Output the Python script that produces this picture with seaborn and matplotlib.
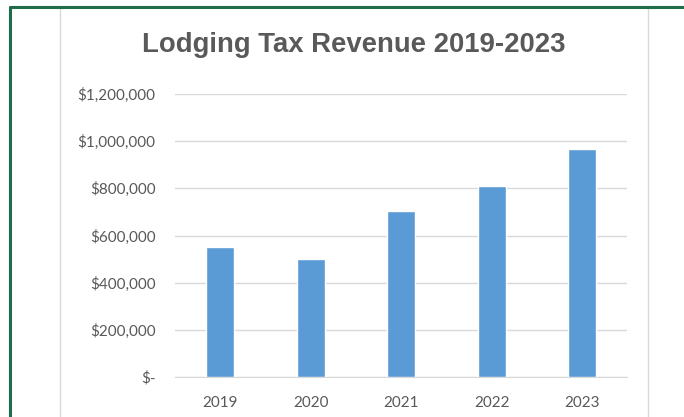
import matplotlib
matplotlib.use("Agg")
import matplotlib.pyplot as plt
import seaborn as sns
import pandas as pd
from matplotlib.lines import Line2D
from matplotlib.ticker import FuncFormatter

# Chart data
years = ["2019", "2020", "2021", "2022", "2023"]
revenue = [553000, 500000, 703000, 810000, 966000]

df = pd.DataFrame({"year": years, "revenue": revenue})

sns.set_style("white")
plt.rcParams["font.family"] = ["Lato", "DejaVu Sans"]

fig = plt.figure(figsize=(6.84, 4.17), dpi=100)
ax = fig.add_axes([0.256, 0.0959, 0.661, 0.6787])

sns.barplot(data=df, x="year", y="revenue", color="#5B9BD5", width=0.31,
            saturation=1, ax=ax, zorder=3)

ax.set_ylim(0, 1200000)
ax.set_yticks(range(0, 1200001, 200000))


def money(v, pos):
    if v == 0:
        return "$-"
    return "${:,.0f}".format(v)


ax.yaxis.set_major_formatter(FuncFormatter(money))
ax.grid(axis="y", color="#D9D9D9", linewidth=1, zorder=0)
for s in ["top", "right", "left"]:
    ax.spines[s].set_visible(False)
ax.spines["bottom"].set_color("#D9D9D9")
ax.spines["bottom"].set_zorder(1)
ax.tick_params(axis="both", length=0, labelsize=11, colors="#595959")
ax.tick_params(axis="y", pad=14)
ax.tick_params(axis="x", pad=14)
ax.set_xlabel("")
ax.set_ylabel("")

fig.text(0.517, 0.893, "Lodging Tax Revenue 2019-2023", ha="center", va="center",
         fontsize=19.8, fontweight="bold", color="#595959",
         family=["Liberation Sans", "DejaVu Sans"])

# chart frame and worksheet border
W, H = 684, 417
for x in [60, 648]:
    fig.add_artist(Line2D([x / W, x / W], [0, 1 - 8 / H], transform=fig.transFigure,
                          color="#D9D9D9", linewidth=1))
fig.add_artist(Line2D([9.5 / W, 1], [1 - 7 / H, 1 - 7 / H], transform=fig.transFigure,
                      color="#1F6B4A", linewidth=2.2))
fig.add_artist(Line2D([9.5 / W, 9.5 / W], [0, 1 - 7 / H], transform=fig.transFigure,
                      color="#1F6B4A", linewidth=2.2))

fig.savefig("out.png", dpi=100)
